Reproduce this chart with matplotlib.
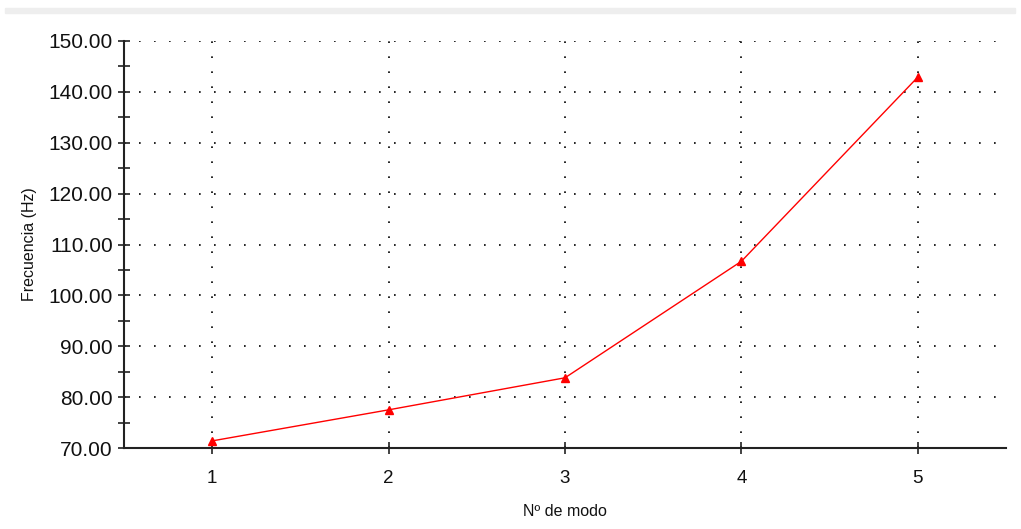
import matplotlib.pyplot as plt
from matplotlib.patches import Rectangle
from matplotlib.ticker import MultipleLocator

# modo vs frecuencia
modos = [1, 2, 3, 4, 5]
frecuencia = [71.4, 77.5, 83.8, 106.7, 142.9]
yticks = [70, 80, 90, 100, 110, 120, 130, 140, 150]

plt.rcParams['font.family'] = ['Liberation Sans', 'DejaVu Sans']

fig = plt.figure(figsize=(10.21, 5.29), dpi=100)
ax = fig.add_axes([124 / 1021, 1 - 448 / 529, (1006 - 124) / 1021, (448 - 41) / 529])

# light gray strip at the very top
fig.patches.append(Rectangle((5 / 1021, 1 - 13 / 529), 1010 / 1021, 5 / 529,
                             transform=fig.transFigure, color='#eeeeee', zorder=0))

ax.plot(modos, frecuencia, color='red', lw=1, marker='^', ms=6, mec='red', mfc='red',
        clip_on=False, zorder=3)

ax.set_xlim(0.5, 5.5)
ax.set_ylim(70, 150)
ax.set_xticks(modos)
ax.set_yticks(yticks)
ax.set_yticklabels([f'{v:.2f}' for v in yticks])
ax.yaxis.set_minor_locator(MultipleLocator(5))

ax.tick_params(axis='both', direction='inout', length=8, width=1.2, color='#222222')
ax.tick_params(axis='y', which='minor', direction='inout', length=8, width=1.2, color='#222222')
ax.tick_params(axis='y', labelsize=15, pad=4, labelcolor='#111111')
ax.tick_params(axis='x', labelsize=13.5, pad=12, labelcolor='#111111')

for side in ['top', 'right']:
    ax.spines[side].set_visible(False)
for side in ['left', 'bottom']:
    ax.spines[side].set_linewidth(1.5)
    ax.spines[side].set_color('#222222')

ax.grid(True, which='major', color='black', linestyle=(0, (1, 8)), linewidth=1.2)
ax.set_axisbelow(True)

ax.set_ylabel('Frecuencia (Hz)', fontsize=11.5, labelpad=8, color='#111111')
ax.set_xlabel('Nº de modo', fontsize=11.5, labelpad=12, color='#111111')

fig.savefig('out.png', dpi=100)
